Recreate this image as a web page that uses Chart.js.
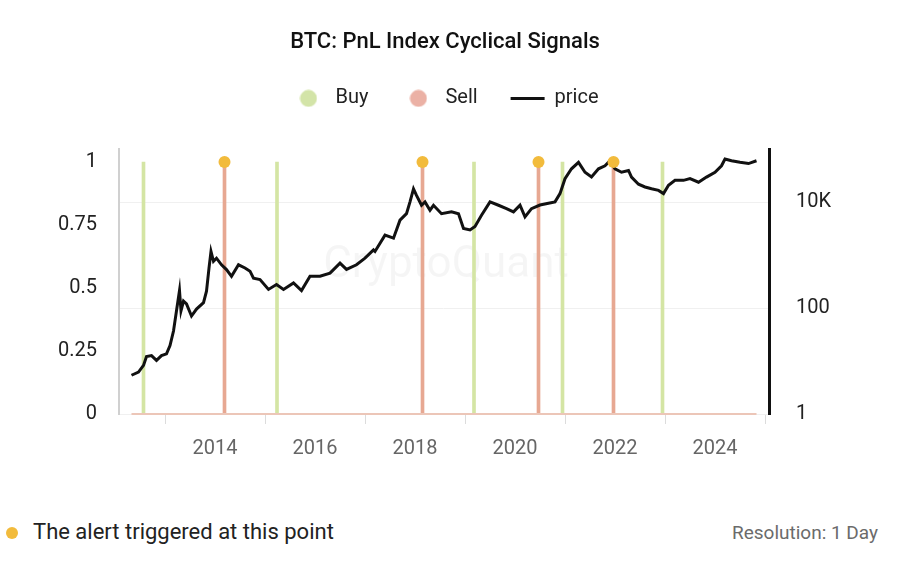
<!DOCTYPE html>
<html>
<head>
<meta charset="utf-8">
<script src="https://cdn.jsdelivr.net/npm/chart.js@4.4.1/dist/chart.umd.min.js"></script>
<style>
  body { margin: 0; background: #fff; font-family: Roboto, "Noto Sans", sans-serif; }
  #wrap { position: absolute; left: 0; top: 0; width: 890px; height: 476px; }
  .note { position: absolute; top: 519px; font-size: 22px; color: #222; }
  .dot { position: absolute; left: 6px; top: 527px; width: 12px; height: 12px; border-radius: 50%; background: #f2bb3c; }
  .res { position: absolute; top: 521px; right: 22px; font-size: 19px; color: #6b6b6b; }
</style>
</head>
<body>
<div id="wrap"><canvas id="chart"></canvas></div>
<div class="dot"></div>
<div class="note" style="left:33px">The alert triggered at this point</div>
<div class="res">Resolution: 1 Day</div>
<script>
// signal dates (decimal years)
const buyYears = [2012.57, 2015.24, 2019.18, 2020.95, 2022.95];
const sellYears = [2014.19, 2018.15, 2020.47, 2021.97];
const alertYears = [2014.19, 2018.15, 2020.47, 2021.97];

// BTC price (USD)
const priceYears = [
  2012.33, 2012.47, 2012.57, 2012.63, 2012.73, 2012.83, 2012.93, 2013.03, 2013.10, 2013.17,
  2013.23, 2013.29, 2013.32, 2013.37, 2013.43, 2013.53, 2013.63, 2013.77, 2013.83, 2013.88,
  2013.92, 2013.97, 2014.03, 2014.13, 2014.23, 2014.33, 2014.47, 2014.60, 2014.70, 2014.77,
  2014.90, 2015.07, 2015.23, 2015.37, 2015.57, 2015.73, 2015.90, 2016.10, 2016.30, 2016.50,
  2016.63, 2016.83, 2017.00, 2017.17, 2017.20, 2017.40, 2017.57, 2017.70, 2017.83, 2017.90,
  2017.97, 2018.03, 2018.13, 2018.20, 2018.30, 2018.37, 2018.53, 2018.73, 2018.87, 2018.97,
  2019.10, 2019.20, 2019.33, 2019.50, 2019.67, 2019.83, 2019.97, 2020.10, 2020.20, 2020.33,
  2020.50, 2020.67, 2020.80, 2020.90, 2021.00, 2021.13, 2021.27, 2021.40, 2021.53, 2021.67,
  2021.80, 2021.90, 2022.00, 2022.13, 2022.27, 2022.33, 2022.47, 2022.60, 2022.73, 2022.87,
  2022.97, 2023.07, 2023.20, 2023.37, 2023.50, 2023.67, 2023.83, 2024.00, 2024.13, 2024.20,
  2024.33, 2024.50, 2024.67, 2024.83
];
const priceValues = [
  5.4, 6.2, 8.3, 12.2, 12.7, 10.3, 12.7, 13.7, 19.6, 37,
  89, 215, 89, 136, 120, 71, 96, 127, 210, 570,
  1180, 770, 880, 660, 535, 400, 660, 575, 500, 370,
  347, 226, 280, 226, 300, 215, 400, 400, 460, 710,
  540, 660, 880, 1260, 1180, 2400, 2100, 4600, 6100, 10200,
  18000, 13500, 8800, 10200, 7100, 8800, 6100, 6600, 6100, 3200,
  3000, 3500, 5700, 10200, 8800, 7600, 6600, 8800, 5300, 7600,
  8900, 9600, 10200, 14600, 28000, 43000, 57000, 37000, 30000, 43000,
  49000, 61000, 43000, 37000, 40000, 30000, 22000, 19500, 18000, 16800,
  14600, 21000, 26000, 26000, 28000, 24000, 30000, 37000, 49000, 66000,
  61000, 57000, 54000, 61000
];

const xTickYears = [2014, 2016, 2018, 2020, 2022, 2024];
const leftTicks = [0, 0.25, 0.5, 0.75, 1];
const rightTicks = [1, 100, 10000];

const BUY = '#d4e5a4';
const SELL = '#e7a892';
const ALERT = '#f2bb3c';

function dotImage(color) {
  const c = document.createElement('canvas');
  c.width = 18; c.height = 18;
  const g = c.getContext('2d');
  g.fillStyle = color;
  g.beginPath(); g.arc(9, 9, 8.5, 0, Math.PI * 2); g.fill();
  return c;
}
const legendDots = { Buy: dotImage('#d3e4a8'), Sell: dotImage('#ebb1a5') };

const legendGap = {
  id: 'legendGap',
  beforeInit(chart) {
    const fit = chart.legend.fit;
    chart.legend.fit = function () {
      fit.bind(chart.legend)();
      this.height = 94;
    };
  }
};

const watermark = {
  id: 'watermark',
  beforeDatasetsDraw(chart) {
    const { ctx, chartArea } = chart;
    ctx.save();
    ctx.font = '44px Roboto, sans-serif';
    ctx.fillStyle = 'rgba(0,0,0,0.04)';
    ctx.textAlign = 'center';
    ctx.textBaseline = 'middle';
    ctx.fillText('CryptoQuant', (chartArea.left + chartArea.right) / 2 + 2, 266);
    ctx.restore();
  }
};

const ctx = document.getElementById('chart').getContext('2d');
new Chart(ctx, {
  type: 'line',
  data: {
    datasets: [
      {
        type: 'bar',
        label: 'Buy',
        data: buyYears.map(x => ({ x: x, y: 1 })),
        yAxisID: 'yL',
        backgroundColor: BUY,
        barThickness: 3,
        grouped: false,
        order: 4
      },
      {
        type: 'bar',
        label: 'Sell',
        data: sellYears.map(x => ({ x: x, y: 1 })),
        yAxisID: 'yL',
        backgroundColor: SELL,
        barThickness: 3,
        grouped: false,
        order: 3
      },
      {
        label: 'price',
        data: priceYears.map((x, i) => ({ x: x, y: priceValues[i] })),
        yAxisID: 'yR',
        borderColor: '#111',
        borderWidth: 3,
        pointRadius: 0,
        tension: 0,
        pointStyle: 'line',
        order: 1
      },
      {
        label: 'baseline',
        data: [{ x: priceYears[0], y: 0 }, { x: priceYears[priceYears.length - 1], y: 0 }],
        yAxisID: 'yL',
        borderColor: '#ecc6b8',
        borderWidth: 2,
        pointRadius: 0,
        clip: false,
        order: 2
      },
      {
        label: 'alert',
        data: alertYears.map(x => ({ x: x, y: 1 })),
        yAxisID: 'yL',
        showLine: false,
        pointRadius: 6,
        pointBackgroundColor: ALERT,
        pointBorderWidth: 0,
        clip: false,
        order: 0
      }
    ]
  },
  options: {
    responsive: true,
    maintainAspectRatio: false,
    animation: false,
    layout: { padding: { top: 0, bottom: 0, left: 0, right: 0 } },
    plugins: {
      title: {
        display: true,
        text: 'BTC: PnL Index Cyclical Signals',
        color: '#111',
        font: { family: 'Roboto', size: 22, weight: '500' },
        padding: { top: 29, bottom: 0 }
      },
      legend: {
        position: 'top',
        labels: {
          usePointStyle: true,
          pointStyleWidth: 34,
          boxHeight: 12,
          padding: 33,
          color: '#222',
          font: { family: 'Roboto', size: 20 },
          filter: item => item.text === 'Buy' || item.text === 'Sell' || item.text === 'price',
          sort: (a, b) => a.datasetIndex - b.datasetIndex,
          generateLabels(chart) {
            const items = Chart.defaults.plugins.legend.labels.generateLabels(chart);
            items.forEach(it => {
              if (legendDots[it.text]) it.pointStyle = legendDots[it.text];
              if (it.text === 'price') { it.pointStyle = 'line'; it.strokeStyle = '#111'; it.lineWidth = 3; }
            });
            return items;
          }
        }
      },
      tooltip: { enabled: false }
    },
    scales: {
      x: {
        type: 'linear',
        min: 2012.08,
        max: 2025.08,
        offset: false,
        afterBuildTicks: s => { s.ticks = xTickYears.map(v => ({ value: v })); },
        afterFit: s => { s.height = 62; },
        grid: { drawOnChartArea: false, drawTicks: true, tickLength: 10, color: '#dcdcdc' },
        border: { display: false },
        ticks: {
          color: '#666',
          padding: 13,
          font: { family: 'Roboto', size: 20 },
          callback: v => String(v)
        }
      },
      yL: {
        type: 'linear',
        position: 'left',
        min: 0,
        max: 1.05,
        afterBuildTicks: s => { s.ticks = leftTicks.map(v => ({ value: v })); },
        afterFit: s => { s.width = 119; },
        grid: { drawOnChartArea: false, drawTicks: false },
        border: { display: true, color: '#d0d0d0', width: 2 },
        ticks: {
          color: '#222',
          padding: 22,
          font: { family: 'Roboto', size: 20 },
          callback: v => String(v)
        }
      },
      yR: {
        type: 'logarithmic',
        position: 'right',
        min: 1,
        max: 100000,
        afterBuildTicks: s => { s.ticks = rightTicks.map(v => ({ value: v })); },
        afterFit: s => { s.width = 121; },
        grid: { drawOnChartArea: true, drawTicks: false, color: '#f0f0f0' },
        border: { display: true, color: '#111', width: 3 },
        ticks: {
          color: '#222',
          padding: 27,
          font: { family: 'Roboto', size: 20 },
          callback: v => (v >= 1000 ? (v / 1000) + 'K' : String(v))
        }
      }
    }
  },
  plugins: [legendGap, watermark]
});
</script>
</body>
</html>
